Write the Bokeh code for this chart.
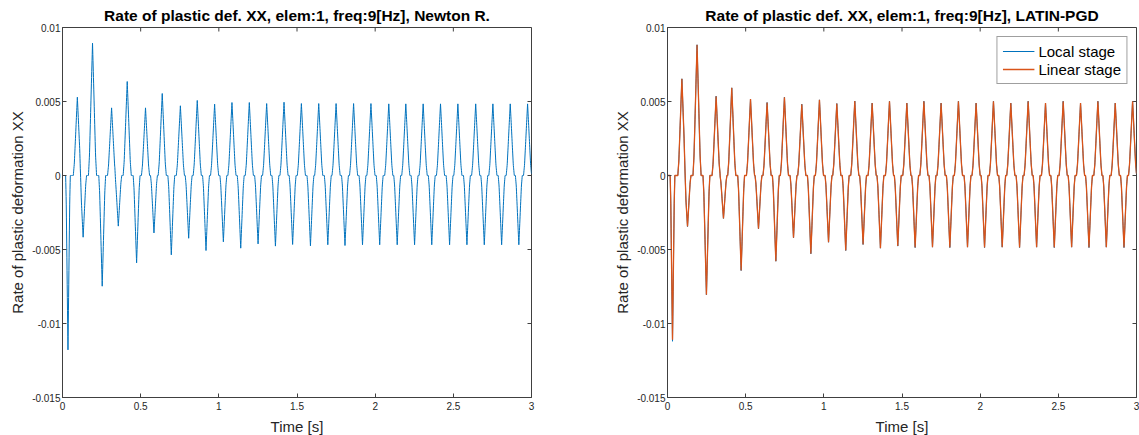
import numpy as np
from bokeh.plotting import figure
from bokeh.models import (Range1d, LinearAxis, FixedTicker, CustomJSTickFormatter,
                          Legend, LegendItem)
from bokeh.layouts import row
from bokeh.embed import file_html
from bokeh.resources import INLINE

# ---------------- data ----------------
x_ticks = [0, 0.5, 1, 1.5, 2, 2.5, 3]
y_ticks = [-0.015, -0.01, -0.005, 0, 0.005, 0.01]

# Newton-Raphson: positive peaks (time [s], value)
nr_pos_t = [0.095, 0.192, 0.314, 0.414, 0.531, 0.638, 0.754, 0.862, 0.973, 1.084,
            1.195, 1.306, 1.417, 1.528, 1.639, 1.750, 1.862, 1.973, 2.087, 2.196,
            2.307, 2.418, 2.529, 2.643, 2.753, 2.864, 2.975]
nr_pos_v = [0.00529, 0.00894, 0.00457, 0.00635, 0.00457, 0.00554, 0.00471, 0.00507,
            0.00482, 0.00493, 0.00493, 0.00486, 0.00495, 0.00486, 0.00486, 0.00486,
            0.00486, 0.00486, 0.00484, 0.00484, 0.00484, 0.00484, 0.00484, 0.00484,
            0.00484, 0.00484, 0.00484]
# Newton-Raphson: negative peaks
nr_neg_t = [0.035, 0.132, 0.254, 0.357, 0.474, 0.585, 0.696, 0.807, 0.918, 1.029,
            1.140, 1.251, 1.362, 1.472, 1.586, 1.697, 1.807, 1.919, 2.029, 2.141,
            2.252, 2.362, 2.476, 2.587, 2.698, 2.809, 2.919]
nr_neg_v = [-0.01178, -0.00417, -0.00748, -0.00342, -0.00590, -0.00388, -0.00536,
            -0.00424, -0.00507, -0.00448, -0.00491, -0.00462, -0.00477, -0.00466,
            -0.00475, -0.00468, -0.00473, -0.00468, -0.00468, -0.00468, -0.00468,
            -0.00468, -0.00468, -0.00468, -0.00468, -0.00468, -0.00468]

# LATIN-PGD, linear stage: positive peaks
lat_pos_t = [0.092, 0.189, 0.311, 0.411, 0.531, 0.637, 0.748, 0.859, 0.972, 1.083,
             1.198, 1.309, 1.420, 1.531, 1.640, 1.750, 1.861, 1.974, 2.085, 2.196,
             2.307, 2.418, 2.531, 2.642, 2.753, 2.864, 2.975]
lat_pos_v = [0.00653, 0.00883, 0.00536, 0.00592, 0.00516, 0.00493, 0.00529, 0.00482,
             0.00511, 0.00486, 0.00503, 0.00489, 0.00502, 0.00489, 0.00502, 0.00489,
             0.00502, 0.00489, 0.00502, 0.00489, 0.00502, 0.00489, 0.00502, 0.00489,
             0.00502, 0.00489, 0.00502]
# LATIN-PGD, linear stage: negative peaks
lat_neg_t = [0.032, 0.128, 0.249, 0.358, 0.471, 0.582, 0.693, 0.806, 0.917, 1.030,
             1.140, 1.251, 1.362, 1.473, 1.584, 1.695, 1.806, 1.919, 2.028, 2.141,
             2.252, 2.361, 2.474, 2.585, 2.696, 2.807, 2.920]
lat_neg_v = [-0.01110, -0.00345, -0.00806, -0.00290, -0.00642, -0.00360, -0.00579,
             -0.00421, -0.00529, -0.00451, -0.00507, -0.00466, -0.00491, -0.00477,
             -0.00487, -0.00484, -0.00487, -0.00484, -0.00487, -0.00484, -0.00487,
             -0.00484, -0.00487, -0.00484, -0.00487, -0.00484, -0.00487]
# LATIN-PGD, local stage (nearly identical; slightly deeper first spike)
loc_neg_v = [-0.01120] + lat_neg_v[1:]

series_names = ["Local stage", "Linear stage"]

# pulse shape (relative time within half-width, relative height)
pulse_u = [-1.0, -0.75, -0.5, -0.25, 0.0, 0.25, 0.5, 0.75, 1.0]
pulse_h = [0.0, 0.15, 0.43, 0.72, 1.0, 0.72, 0.43, 0.15, 0.0]
pos_half_width = 0.026
neg_half_width = [0.015] + [0.022] * 26

t = np.linspace(0, 3, 3001)


def build(pos_t, pos_v, neg_t, neg_v):
    y = np.zeros_like(t)
    for tp, v in zip(pos_t, pos_v):
        y += v * np.interp((t - tp) / pos_half_width, pulse_u, pulse_h)
    for tp, v, hw in zip(neg_t, neg_v, neg_half_width):
        y += v * np.interp((t - tp) / hw, pulse_u, pulse_h)
    return y


y_nr = build(nr_pos_t, nr_pos_v, nr_neg_t, nr_neg_v)
y_lin = build(lat_pos_t, lat_pos_v, lat_neg_t, lat_neg_v)
y_loc = build(lat_pos_t, lat_pos_v, lat_neg_t, loc_neg_v)

# ---------------- styling ----------------
FONT = "Liberation Sans"
AX = "#404040"
TXT = "#262626"
BLUE = "#0072BD"
ORANGE = "#D95319"
FRAME_H = 370
TICK_PX = 4

fmt = CustomJSTickFormatter(code="""
if (Math.abs(tick) < 1e-12) { return '0'; }
let s = tick.toFixed(3);
s = s.replace(/0+$/, '').replace(/\\.$/, '');
return s;
""")


def make_axis(ticks):
    ax = LinearAxis(ticker=FixedTicker(ticks=ticks), formatter=fmt)
    ax.major_tick_in = TICK_PX
    ax.major_tick_out = 0
    ax.minor_tick_line_color = None
    ax.axis_line_color = AX
    ax.major_tick_line_color = AX
    ax.major_label_text_font = FONT
    ax.major_label_text_color = TXT
    ax.major_label_text_font_size = "10px"
    ax.axis_label_text_font = FONT
    ax.axis_label_text_font_size = "15px"
    ax.axis_label_text_font_style = "normal"
    ax.axis_label_text_color = TXT
    return ax


def make_fig(title, fw, mbl, mbr):
    x0, x1 = min(x_ticks), max(x_ticks)
    y0, y1 = min(y_ticks), max(y_ticks)
    p = figure(frame_width=fw, frame_height=FRAME_H,
               x_range=Range1d(x0, x1), y_range=Range1d(y0, y1),
               x_axis_type=None, y_axis_type=None,
               output_backend="svg", toolbar_location=None,
               min_border_left=mbl, min_border_right=mbr,
               min_border_top=27, min_border_bottom=38,
               title=title)
    p.grid.visible = False
    p.outline_line_color = AX
    p.background_fill_color = "white"
    p.border_fill_color = "white"
    p.title.align = "center"
    p.title.text_font = FONT
    p.title.text_font_size = "15.5px"
    p.title.text_font_style = "bold"
    p.title.text_color = "black"
    p.title.standoff = 7

    xb = make_axis(x_ticks)
    xb.axis_label = "Time [s]"
    xb.major_label_standoff = 4
    xb.axis_label_standoff = 5
    p.add_layout(xb, "below")

    yl = make_axis(y_ticks)
    yl.axis_label = "Rate of plastic deformation XX"
    yl.major_label_standoff = 2
    yl.axis_label_standoff = 3
    p.add_layout(yl, "left")

    # inward ticks on the top and right edges of the box (MATLAB "box on")
    dy = TICK_PX * (y1 - y0) / FRAME_H
    dx = TICK_PX * (x1 - x0) / fw
    p.segment(x0=x_ticks, y0=[y1] * len(x_ticks), x1=x_ticks, y1=[y1 - dy] * len(x_ticks),
              line_color=AX, line_width=1)
    p.segment(x0=[x1] * len(y_ticks), y0=y_ticks, x1=[x1 - dx] * len(y_ticks), y1=y_ticks,
              line_color=AX, line_width=1)
    return p


p1 = make_fig("Rate of plastic def. XX, elem:1, freq:9[Hz], Newton R.", 469, 62, 20)
p1.line(t, y_nr, line_color=BLUE, line_width=1)

p2 = make_fig("Rate of plastic def. XX, elem:1, freq:9[Hz], LATIN-PGD", 469, 116, 3)
r_loc = p2.line(t, y_loc, line_color=BLUE, line_width=1)
r_lin = p2.line(t, y_lin, line_color=ORANGE, line_width=1.3)

legend = Legend(items=[LegendItem(label=series_names[0], renderers=[r_loc]),
                       LegendItem(label=series_names[1], renderers=[r_lin])],
                location="top_right")
legend.label_text_font = FONT
legend.label_text_font_size = "15px"
legend.label_text_color = "black"
legend.glyph_width = 32
legend.glyph_height = 18
legend.label_height = 18
legend.label_standoff = 4
legend.spacing = 0
legend.padding = 5
legend.margin = 9
legend.border_line_color = AX
legend.border_line_width = 1
legend.background_fill_alpha = 1.0
p2.add_layout(legend)

layout = row(p1, p2)

with open("out.html", "w") as f:
    f.write(file_html(layout, INLINE))
